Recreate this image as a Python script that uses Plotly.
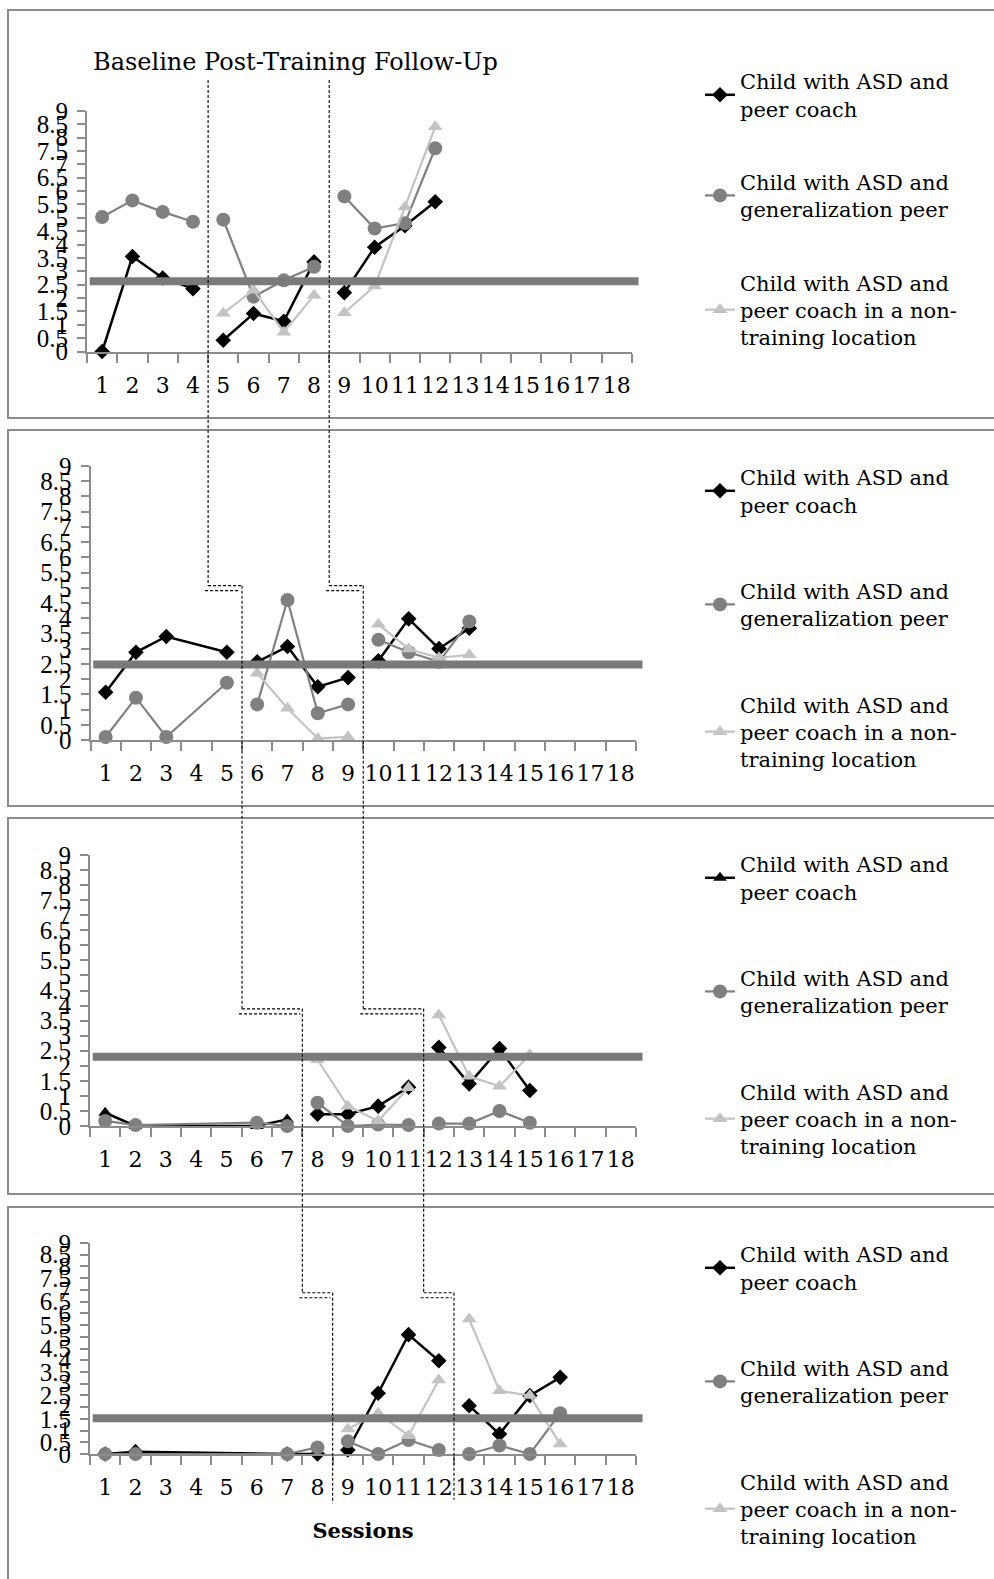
import plotly.graph_objects as go

# ---------------- data ----------------
sessions_axis = list(range(1, 19))
y_ticks = [i * 0.5 for i in range(19)]
y_tick_text = ["0", "0.5", "1", "1.5", "2", "2.5", "3", "3.5", "4", "4.5",
               "5", "5.5", "6", "6.5", "7", "7.5", "8", "8.5", "9"]

series_names = [
    "Child with ASD and<br>peer coach",
    "Child with ASD and<br>generalization peer",
    "Child with ASD and<br>peer coach in a non-<br>training location",
]

# Panel 1
p1_x_peer = [1, 2, 3, 4, None, 5, 6, 7, 8, None, 9, 10, 11, 12]
p1_peer = [0, 3.55, 2.75, 2.35, None, 0.42, 1.42, 1.13, 3.35, None, 2.2, 3.9, 4.7, 5.6]
p1_x_gen = [1, 2, 3, 4, None, 5, 6, 7, 8, None, 9, 10, 11, 12]
p1_gen = [5.03, 5.65, 5.22, 4.85, None, 4.93, 2.05, 2.66, 3.17, None, 5.8, 4.6, 4.8, 7.6]
p1_x_non = [5, 6, 7, 8, None, 9, 10, 11, 12]
p1_non = [1.43, 2.3, 0.72, 2.1, None, 1.45, 2.45, 5.4, 8.4]

# Panel 2
p2_x_peer = [1, 2, 3, 5, None, 6, 7, 8, 9, None, 10, 11, 12, 13]
p2_peer = [1.57, 2.88, 3.4, 2.88, None, 2.57, 3.07, 1.75, 2.05, None, 2.6, 3.98, 3.0, 3.67]
p2_x_gen = [1, 2, 3, 5, None, 6, 7, 8, 9, None, 10, 11, 12, 13]
p2_gen = [0.1, 1.39, 0.1, 1.88, None, 1.17, 4.6, 0.88, 1.17, None, 3.29, 2.88, 2.57, 3.89]
p2_x_non = [6, 7, 8, 9, None, 10, 11, 12, 13]
p2_non = [2.19, 1.04, 0.05, 0.1, None, 3.8, 2.99, 2.7, 2.8]

# Panel 3
p3_x_peer = [1, 2, 6, 7, None, 8, 9, 10, 11, None, 12, 13, 14, 15]
p3_peer = [0.44, 0.0, 0.0, 0.22, None, 0.39, 0.39, 0.66, 1.29, None, 2.61, 1.4, 2.57, 1.18]
p3_peer_symbols = ["triangle-up"] * 5 + ["diamond"] * 9
p3_x_gen = [1, 2, 6, 7, None, 8, 9, 10, 11, None, 12, 13, 14, 15]
p3_gen = [0.17, 0.03, 0.11, 0.0, None, 0.77, 0.0, 0.05, 0.03, None, 0.08, 0.08, 0.5, 0.11]
p3_x_non = [8, 9, 10, 11, None, 12, 13, 14, 15]
p3_non = [2.2, 0.66, 0.17, 1.27, None, 3.69, 1.65, 1.32, 2.37]

# Panel 4
p4_x_peer = [1, 2, 7, 8, None, 9, 10, 11, 12, None, 13, 14, 15, 16]
p4_peer = [0, 0.1, 0, 0, None, 0.17, 2.59, 5.09, 3.98, None, 2.06, 0.85, 2.49, 3.27]
p4_x_gen = [1, 2, 7, 8, None, 9, 10, 11, 12, None, 13, 14, 15, 16]
p4_gen = [0, 0, 0, 0.28, None, 0.54, 0, 0.6, 0.17, None, 0, 0.36, 0, 1.74]
p4_x_non = [9, 10, 11, 12, None, 13, 14, 15, 16]
p4_non = [1.07, 1.74, 0.78, 3.16, None, 5.76, 2.7, 2.49, 0.43]

mean_levels = [2.63, 2.48, 2.3, 1.53]

# phase change positions (session boundaries) per panel, and step heights
phase_breaks = [[4.5, 8.5], [5.5, 9.5], [7.5, 11.5], [8.5, 12.5]]
step_levels = [10.15, 5.07, 3.89, 6.88]   # panel 1 value = top of the phase line
bottom_levels = [-2.1, -1.95]             # ends of the phase lines in panel 4

# ---------------- layout helpers ----------------
W, H = 994, 1579
def pxx(p):
    return p / W
def pxy(p):
    return 1 - p / H

panel_x_px = [(87, 632), (90.5, 636), (90, 636), (90, 636)]
panel_y_px = [(110.8, 351.5), (466, 740), (855, 1126), (1243, 1454)]
boxes_px = [(10, 418), (430, 806), (818, 1194), (1207, 1650)]
legend_top_px = [61, 457, 844, 1234]
legend_gap = [43, 56, 56, 56]

XR = (0.5, 18.5)
YR = (0, 9)

def to_px(panel, v):
    a, b = panel_x_px[panel]
    return pxx(a + (v - XR[0]) / (XR[1] - XR[0]) * (b - a))

def to_py(panel, v):
    top, bot = panel_y_px[panel]
    return pxy(bot - (v - YR[0]) / (YR[1] - YR[0]) * (bot - top))

SERIF = "DejaVu Serif"
BLACK = "#000000"
GRAY = "#808080"
LIGHT = "#c3c3c3"
AXC = "#8c8c8c"

fig = go.Figure()

panels = [
    (p1_x_peer, p1_peer, "diamond", p1_x_gen, p1_gen, p1_x_non, p1_non),
    (p2_x_peer, p2_peer, "diamond", p2_x_gen, p2_gen, p2_x_non, p2_non),
    (p3_x_peer, p3_peer, p3_peer_symbols, p3_x_gen, p3_gen, p3_x_non, p3_non),
    (p4_x_peer, p4_peer, "diamond", p4_x_gen, p4_gen, p4_x_non, p4_non),
]

for i, (xp, yp, sym, xg, yg, xn, yn) in enumerate(panels):
    ax = "" if i == 0 else str(i + 1)
    leg = "legend" if i == 0 else "legend" + str(i + 1)
    common = dict(xaxis="x" + ax, yaxis="y" + ax, legend=leg, cliponaxis=False,
                  mode="lines+markers", connectgaps=False)
    fig.add_trace(go.Scatter(x=xp, y=yp, name=series_names[0], legendgroup=f"a{i}",
                             line=dict(color=BLACK, width=2.5),
                             marker=dict(symbol=sym, size=12, color=BLACK), **common))
    fig.add_trace(go.Scatter(x=xg, y=yg, name=series_names[1], legendgroup=f"b{i}",
                             line=dict(color=GRAY, width=2.2),
                             marker=dict(symbol="circle", size=14, color=GRAY), **common))
    fig.add_trace(go.Scatter(x=xn, y=yn, name=series_names[2], legendgroup=f"c{i}",
                             line=dict(color=LIGHT, width=2.2),
                             marker=dict(symbol="triangle-up", size=13, color=LIGHT), **common))

layout = dict(
    width=W, height=H, margin=dict(l=0, r=0, t=0, b=0, pad=0, autoexpand=False),
    paper_bgcolor="white", plot_bgcolor="rgba(0,0,0,0)",
    font=dict(family=SERIF, size=22, color="black"),
    showlegend=True,
)

shapes = []
annotations = []
for i in range(4):
    ax = "" if i == 0 else str(i + 1)
    xa = dict(
        domain=[pxx(panel_x_px[i][0]), pxx(panel_x_px[i][1])],
        range=list(XR), anchor="y" + ax,
        tickmode="array", tickvals=sessions_axis, ticktext=[str(s) for s in sessions_axis],
        ticks="", ticklabelstandoff=13, automargin=False,
        tickfont=dict(family=SERIF, size=22, color="black"),
        showline=True, linecolor=AXC, linewidth=2,
        showgrid=False, zeroline=False, fixedrange=True,
        minor=dict(tickmode="array", tickvals=[s - 0.5 for s in sessions_axis] + [18.5],
                   ticks="outside", ticklen=9, tickwidth=2, tickcolor=AXC),
    )
    ya = dict(
        domain=[pxy(panel_y_px[i][1]), pxy(panel_y_px[i][0])],
        range=list(YR), anchor="x" + ax, automargin=False,
        tickmode="array", tickvals=y_ticks, ticktext=y_tick_text,
        ticks="outside", ticklen=8, tickwidth=2, tickcolor=AXC, ticklabelstandoff=4,
        tickfont=dict(family="Liberation Serif", size=25, color="black"),
        showline=True, linecolor=AXC, linewidth=2,
        showgrid=False, zeroline=False, fixedrange=True,
    )
    layout["xaxis" + ax] = xa
    layout["yaxis" + ax] = ya

    leg = "legend" if i == 0 else "legend" + str(i + 1)
    layout[leg] = dict(
        x=pxx(700), y=pxy(legend_top_px[i]), xanchor="left", yanchor="top",
        bgcolor="rgba(0,0,0,0)", borderwidth=0,
        font=dict(family=SERIF, size=21, color="black"),
        tracegroupgap=legend_gap[i], itemclick=False, itemdoubleclick=False,
    )

    # panel frame
    shapes.append(dict(type="rect", xref="paper", yref="paper",
                       x0=pxx(8), x1=pxx(1010), y0=pxy(boxes_px[i][1]), y1=pxy(boxes_px[i][0]),
                       line=dict(color=AXC, width=2), layer="below"))
    # mean level line
    shapes.append(dict(type="line", xref="x" + ax + " domain", yref="y" + ax,
                       x0=0.005, x1=1.012, y0=mean_levels[i], y1=mean_levels[i],
                       line=dict(color="#7a7a7a", width=8), layer="above"))

# phase change lines (staircase across panels)
DASH = dict(color="black", width=1.1, dash="3px,2px")
step_h = 5 / H
for j in range(2):
    cur_x = to_px(0, phase_breaks[0][j])
    cur_y = to_py(0, step_levels[0])
    for k in range(1, 4):
        sy = to_py(k, step_levels[k])
        shapes.append(dict(type="line", xref="paper", yref="paper",
                           x0=cur_x, x1=cur_x, y0=cur_y, y1=sy, line=DASH))
        nx = to_px(k, phase_breaks[k][j])
        shapes.append(dict(type="line", xref="paper", yref="paper",
                           x0=cur_x, x1=nx, y0=sy, y1=sy, line=DASH))
        shapes.append(dict(type="line", xref="paper", yref="paper",
                           x0=cur_x - 3 / W, x1=nx - 2 / W, y0=sy - step_h, y1=sy - step_h, line=DASH))
        cur_x, cur_y = nx, sy
    shapes.append(dict(type="line", xref="paper", yref="paper",
                       x0=cur_x, x1=cur_x, y0=cur_y, y1=to_py(3, bottom_levels[j]), line=DASH))

annotations.append(dict(text="Baseline Post-Training Follow-Up", xref="paper", yref="paper",
                        x=pxx(91), y=pxy(62), xanchor="left", yanchor="middle", showarrow=False,
                        font=dict(family=SERIF, size=24, color="black")))

layout["xaxis4"]["title"] = dict(text="<b>Sessions</b>", standoff=24,
                                 font=dict(family=SERIF, size=21, color="black"))
layout["shapes"] = shapes
layout["annotations"] = annotations
fig.update_layout(**layout)

fig.write_html("out.html", config={"displayModeBar": False},
               post_script="document.body.style.margin='0';")
